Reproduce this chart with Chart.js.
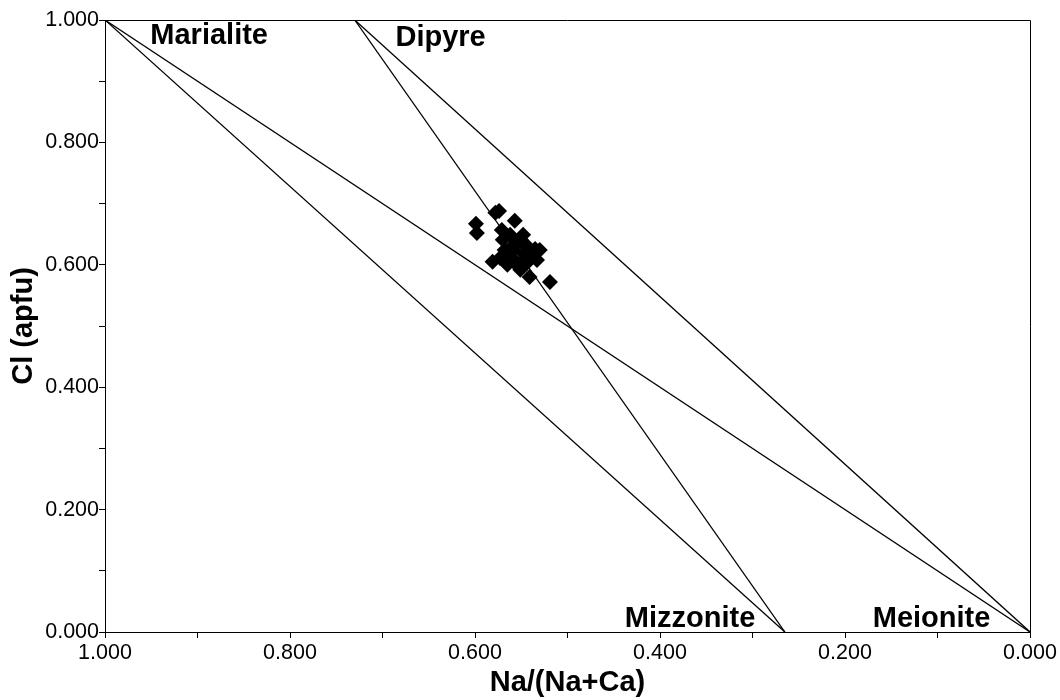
<!DOCTYPE html>
<html>
<head>
<meta charset="utf-8">
<script src="https://cdn.jsdelivr.net/npm/chart.js@4.4.1/dist/chart.umd.min.js"></script>
<style>
  html, body { margin: 0; padding: 0; background: #fff; }
  #wrap { width: 1060px; height: 700px; position: relative; }
</style>
</head>
<body>
<div id="wrap"><canvas id="c" width="1060" height="700"></canvas></div>
<script>
// ---- Data ----
const naRatio = [0.578, 0.557, 0.599, 0.598, 0.571, 0.570, 0.548, 0.535, 0.581, 0.541,
                 0.519, 0.559, 0.548, 0.554, 0.564, 0.544, 0.533, 0.555, 0.565, 0.573,
                 0.538, 0.562, 0.544, 0.551, 0.530, 0.574, 0.560, 0.550, 0.545, 0.540,
                 0.560, 0.549, 0.541, 0.557, 0.568];
const clApfu  = [0.685, 0.672, 0.667, 0.652, 0.657, 0.641, 0.649, 0.626, 0.605, 0.580,
                 0.572, 0.624, 0.619, 0.636, 0.611, 0.603, 0.608, 0.600, 0.600, 0.611,
                 0.614, 0.649, 0.631, 0.592, 0.624, 0.688, 0.630, 0.640, 0.612, 0.618,
                 0.611, 0.605, 0.624, 0.632, 0.624];

// End-member positions (Na/(Na+Ca), Cl)
const endMemberNames = ['Marialite', 'Dipyre', 'Mizzonite', 'Meionite'];
const endMemberX     = [1.000, 0.730, 0.265, 0.000];
const endMemberY     = [1.000, 1.000, 0.000, 0.000];
// tie lines between end members (index pairs)
const tieLines = [[0, 2], [0, 3], [1, 2], [1, 3]];

const tickStep = 0.1;

// label anchors (data units) for the end-member names
const labelAnchorX = [0.951, 0.686, 0.438, 0.170];
const labelAnchorY = [0.961, 0.958, 0.008, 0.008];

const FONT = "'Liberation Sans', Arial, Helvetica, sans-serif";

const datasets = [{
  label: 'Scapolite',
  data: naRatio.map((x, i) => ({ x: x, y: clApfu[i] })),
  pointStyle: 'rectRot',
  pointRadius: 8,
  pointBackgroundColor: '#000',
  pointBorderColor: '#000',
  pointBorderWidth: 0,
  showLine: false
}];
tieLines.forEach(([a, b]) => {
  datasets.push({
    label: endMemberNames[a] + '-' + endMemberNames[b],
    data: [{ x: endMemberX[a], y: endMemberY[a] }, { x: endMemberX[b], y: endMemberY[b] }],
    showLine: true,
    borderColor: '#000',
    borderWidth: 1.3,
    pointRadius: 0,
    fill: false
  });
});

const frameAndLabels = {
  id: 'frameAndLabels',
  afterDatasetsDraw(chart) {
    const { ctx, chartArea: a, scales } = chart;
    ctx.save();
    ctx.strokeStyle = '#000';
    ctx.lineWidth = 1;
    ctx.beginPath();
    ctx.moveTo(a.left, a.top + 0.5);
    ctx.lineTo(a.right + 0.5, a.top + 0.5);
    ctx.lineTo(a.right + 0.5, a.bottom);
    ctx.stroke();
    ctx.fillStyle = '#000';
    ctx.font = 'bold 29px ' + FONT;
    ctx.textAlign = 'left';
    ctx.textBaseline = 'alphabetic';
    endMemberNames.forEach((n, i) => {
      ctx.fillText(n, scales.x.getPixelForValue(labelAnchorX[i]), scales.y.getPixelForValue(labelAnchorY[i]));
    });
    ctx.restore();
  }
};

function tickLabel(v) {
  const k = Math.round(v / tickStep);
  return k % 2 === 0 ? (k * tickStep).toFixed(3) : '';
}

new Chart(document.getElementById('c'), {
  type: 'scatter',
  data: { datasets },
  options: {
    responsive: false,
    animation: false,
    events: [],
    layout: { padding: { left: 0, right: 30, top: 20, bottom: 0 } },
    plugins: { legend: { display: false }, tooltip: { enabled: false } },
    scales: {
      x: {
        type: 'linear', reverse: true, min: 0, max: 1,
        afterFit(s) { s.height = 68; },
        border: { display: true, color: '#000', width: 1 },
        grid: { drawOnChartArea: false, drawTicks: true, tickLength: 6, color: '#000', lineWidth: 1 },
        ticks: { stepSize: tickStep, autoSkip: false, maxRotation: 0, padding: 2, color: '#000',
                 font: { family: FONT, size: 21.5 }, callback: tickLabel },
        title: { display: true, text: 'Na/(Na+Ca)', color: '#000', padding: { top: 0, bottom: 0 },
                 font: { family: FONT, size: 29, weight: 'bold', lineHeight: 1.2 } }
      },
      y: {
        type: 'linear', min: 0, max: 1,
        afterFit(s) { s.width = 105; },
        border: { display: true, color: '#000', width: 1 },
        grid: { drawOnChartArea: false, drawTicks: true, tickLength: 6, color: '#000', lineWidth: 1 },
        ticks: { stepSize: tickStep, autoSkip: false, padding: 0, color: '#000',
                 font: { family: FONT, size: 21.5 }, callback: tickLabel },
        title: { display: true, text: 'Cl (apfu)', color: '#000', padding: { top: 7, bottom: 0 },
                 font: { family: FONT, size: 29, weight: 'bold', lineHeight: 1.2 } }
      }
    }
  },
  plugins: [frameAndLabels]
});
</script>
</body>
</html>
